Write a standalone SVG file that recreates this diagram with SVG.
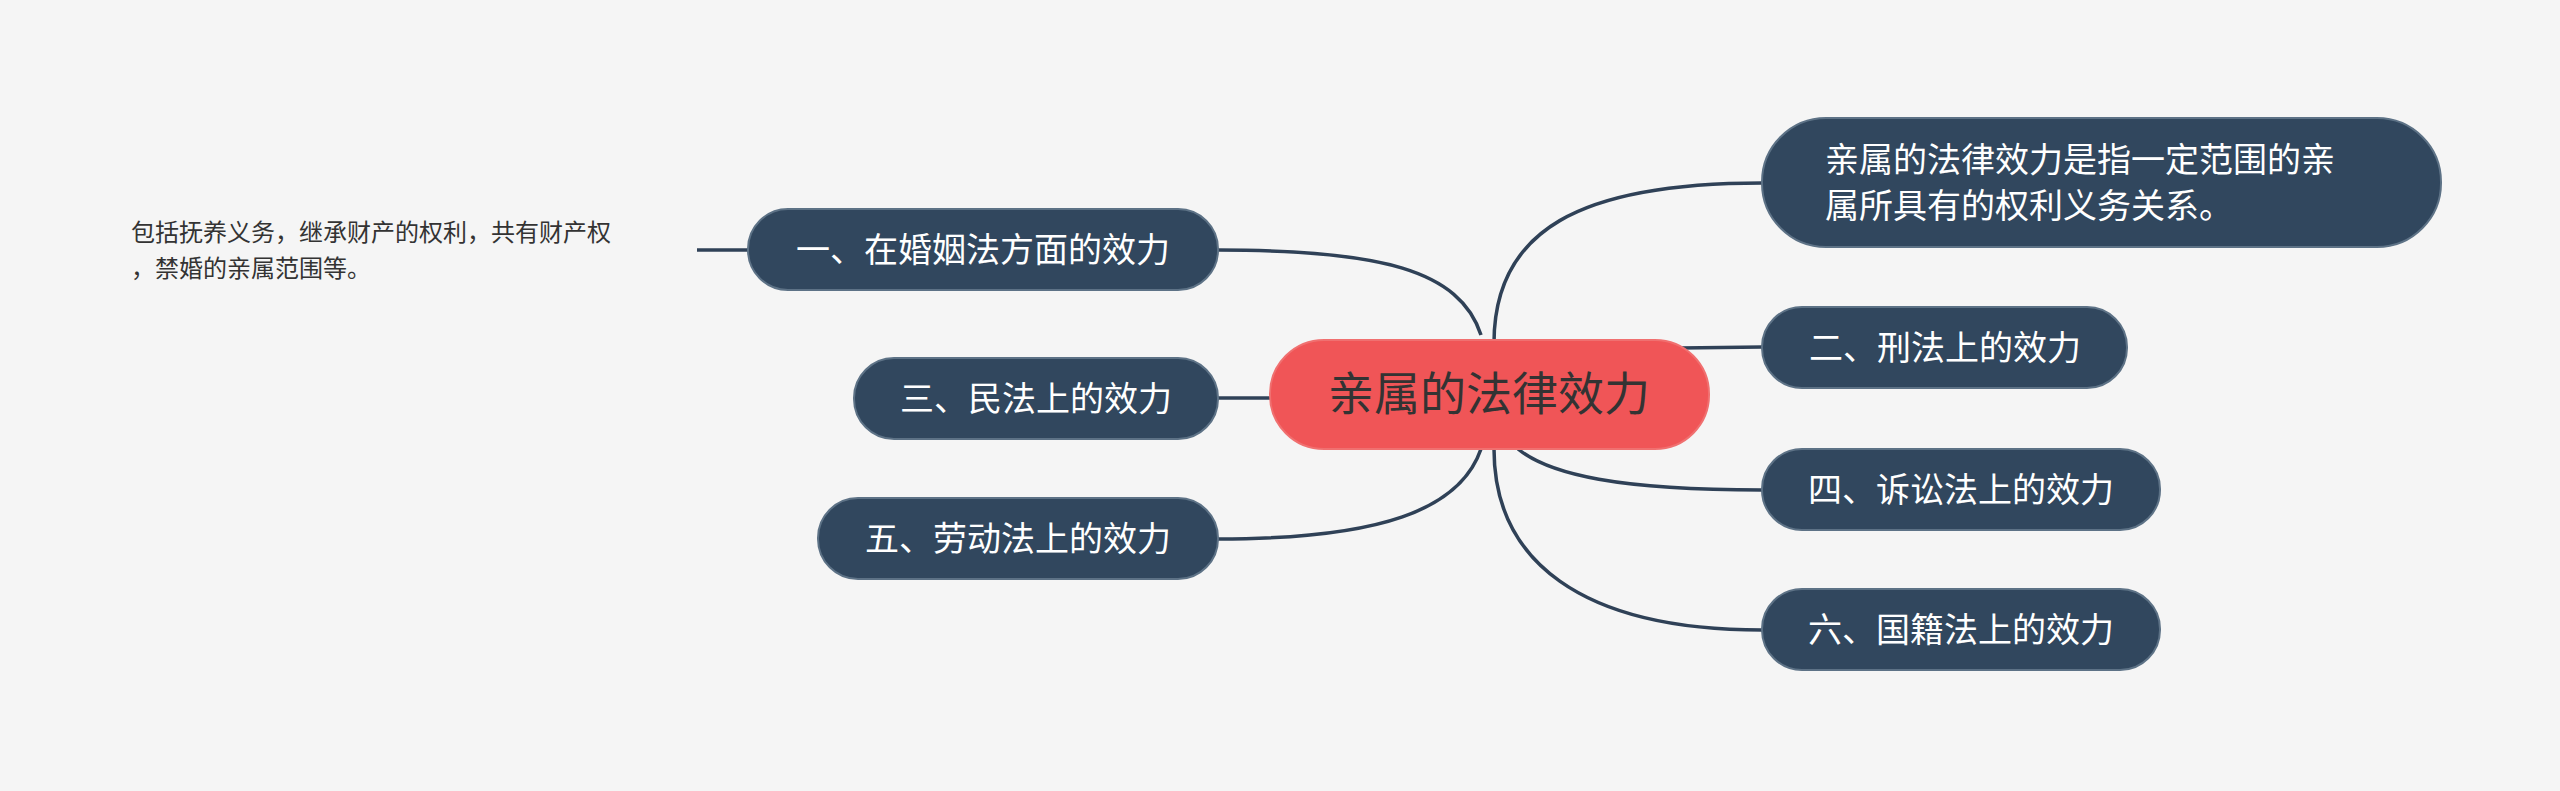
<svg xmlns="http://www.w3.org/2000/svg" width="2560" height="791" viewBox="0 0 2560 791">
<style>
.n{fill:#31475e;stroke:#5d7286;stroke-width:2}
.t{font-family:"Noto Sans CJK SC","Noto Sans",sans-serif;font-size:34px;fill:#ffffff}
.c{fill:none;stroke:#2f4157;stroke-width:3.5}
</style>
<rect width="2560" height="791" fill="#f5f5f5"/>
<g id="connectors">
<path class="c" d="M1494,343 C1494,230 1580,183 1762,183"/>
<path class="c" d="M1680,348 L1762,347"/>
<path class="c" d="M1518,449 C1550,475 1620,490 1762,490"/>
<path class="c" d="M1494,449 C1494,560 1580,630 1762,630"/>
<path class="c" d="M1481,335 C1460,270 1380,250 1218,250"/>
<path class="c" d="M1270,398 L1218,398"/>
<path class="c" d="M1481,449 C1460,510 1380,539 1218,539"/>
<path class="c" d="M697,250 L748,250"/>
</g>
<g id="center"><rect x="1270" y="340" width="439" height="109" rx="54" fill="#f05557" stroke="#f07070" stroke-width="2"/><text x="1489" y="410" text-anchor="middle" font-family="Noto Sans CJK SC,sans-serif" font-size="46" fill="#333">亲属的法律效力</text></g>
<g id="r1"><rect class="n" x="1762" y="118" width="679" height="129" rx="64"/><text class="t" x="1825" y="172">亲属的法律效力是指一定范围的亲</text><text class="t" x="1825" y="218">属所具有的权利义务关系。</text></g>
<g id="r2"><rect class="n" x="1762" y="307" width="365" height="81" rx="40"/><text class="t" x="1945" y="360" text-anchor="middle">二、刑法上的效力</text></g>
<g id="r4"><rect class="n" x="1762" y="449" width="398" height="81" rx="40"/><text class="t" x="1961" y="502" text-anchor="middle">四、诉讼法上的效力</text></g>
<g id="r6"><rect class="n" x="1762" y="589" width="398" height="81" rx="40"/><text class="t" x="1961" y="642" text-anchor="middle">六、国籍法上的效力</text></g>
<g id="l1"><rect class="n" x="748" y="209" width="470" height="81" rx="40"/><text class="t" x="983" y="262" text-anchor="middle">一、在婚姻法方面的效力</text></g>
<g id="l3"><rect class="n" x="854" y="358" width="364" height="81" rx="40"/><text class="t" x="1036" y="411" text-anchor="middle">三、民法上的效力</text></g>
<g id="l5"><rect class="n" x="818" y="498" width="400" height="81" rx="40"/><text class="t" x="1018" y="551" text-anchor="middle">五、劳动法上的效力</text></g>
<g id="note" font-family="Noto Sans CJK SC,sans-serif" font-size="24" fill="#333"><text x="131" y="241">包括抚养义务，继承财产的权利，共有财产权</text><text x="131" y="277">，禁婚的亲属范围等。</text></g>
</svg>
